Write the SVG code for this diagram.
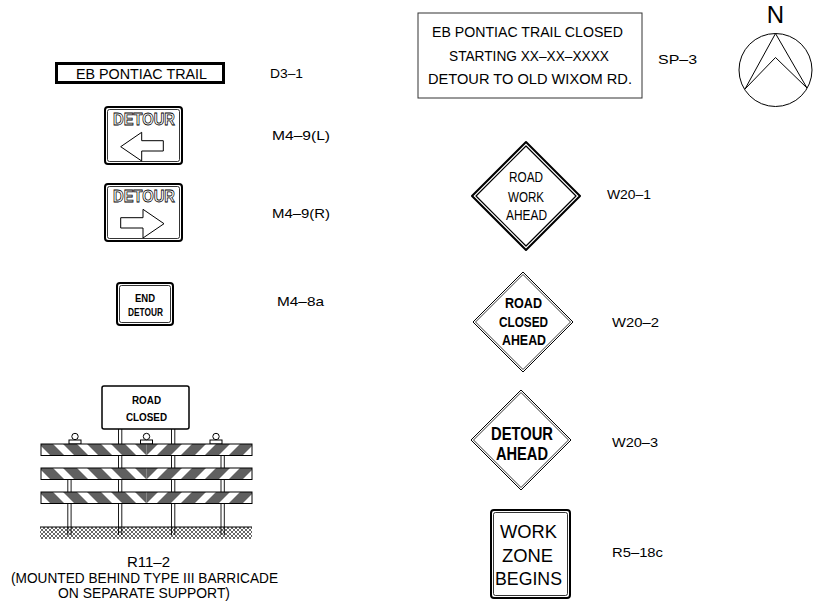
<svg xmlns="http://www.w3.org/2000/svg" xmlns:xlink="http://www.w3.org/1999/xlink" width="833" height="614" viewBox="0 0 833 614">
  <style>
    .t { font-family: "Liberation Sans", Arial, sans-serif; fill: #000; }
    .lbl { font-size: 13.5px; }
    .b { font-weight: bold; }
    .ln { fill: none; stroke: #000; }
    .sg { fill: #fff; stroke: #000; }
    .hollow { font-family: "Liberation Sans", Arial, sans-serif; font-weight: bold; font-size: 17px; fill: #fff; stroke: #000; stroke-width: 0.8; }
    .stripe { fill: #606060; }
  </style>
  <defs>
    <!-- diagonal stripe used on the barricade rails -->
    <polygon id="st" points="0,0 14,0 25.5,11.5 11.5,11.5"/>
    <clipPath id="railLeft">
      <rect x="41" y="444" width="105.5" height="11.5"/>
      <rect x="41" y="468" width="105.5" height="11.5"/>
      <rect x="41" y="492" width="105.5" height="11.5"/>
    </clipPath>
    <pattern id="hatch" width="4" height="4" patternUnits="userSpaceOnUse">
      <path d="M0,0 L4,4 M4,0 L0,4" stroke="#000" stroke-width="0.6"/>
    </pattern>
  </defs>

  <rect width="833" height="614" fill="#fff"/>

  <!-- D3-1 street name sign -->
  <g id="d3-1">
    <rect x="56.5" y="63.5" width="167" height="19" fill="#fff" stroke="#000" stroke-width="3"/>
    <text class="t" x="76" y="78.5" font-size="15" textLength="131" lengthAdjust="spacingAndGlyphs">EB PONTIAC TRAIL</text>
    <text class="t lbl" x="270" y="78" textLength="33" lengthAdjust="spacingAndGlyphs">D3–1</text>
  </g>

  <!-- M4-9(L) detour left -->
  <g id="m4-9l">
    <rect class="sg" x="105" y="107" width="77" height="57" rx="3" stroke-width="2"/>
    <rect class="ln" x="107.5" y="109.5" width="72" height="52" rx="2" stroke-width="0.8"/>
    <text class="hollow" x="113" y="125" textLength="62" lengthAdjust="spacingAndGlyphs">DETOUR</text>
    <polygon class="ln" stroke-width="1" points="120.7,146.7 141.7,132.3 141.7,140.7 163.3,140.7 163.3,151 141.7,151 141.7,161"/>
    <text class="t lbl" x="272" y="140" textLength="58" lengthAdjust="spacingAndGlyphs">M4–9(L)</text>
  </g>

  <!-- M4-9(R) detour right -->
  <g id="m4-9r">
    <rect class="sg" x="105" y="184" width="77" height="57" rx="3" stroke-width="2"/>
    <rect class="ln" x="107.5" y="186.5" width="72" height="52" rx="2" stroke-width="0.8"/>
    <text class="hollow" x="113" y="202" textLength="62" lengthAdjust="spacingAndGlyphs">DETOUR</text>
    <polygon class="ln" stroke-width="1" points="164,223.7 143,209.3 143,217.7 120.7,217.7 120.7,228 143,228 143,238"/>
    <text class="t lbl" x="272" y="218" textLength="58" lengthAdjust="spacingAndGlyphs">M4–9(R)</text>
  </g>

  <!-- M4-8a end detour -->
  <g id="m4-8a">
    <rect class="sg" x="117" y="283" width="56" height="42" rx="3" stroke-width="2"/>
    <rect class="ln" x="119.5" y="285.5" width="51" height="37" rx="2" stroke-width="0.8"/>
    <text class="t b" x="135" y="302" font-size="10.5" textLength="20" lengthAdjust="spacingAndGlyphs">END</text>
    <text class="t b" x="128" y="316" font-size="10.5" textLength="35" lengthAdjust="spacingAndGlyphs">DETOUR</text>
    <text class="t lbl" x="277" y="306" textLength="47" lengthAdjust="spacingAndGlyphs">M4–8a</text>
  </g>

  <!-- R11-2 road closed sign behind type III barricade -->
  <g id="r11-2">
    <!-- posts -->
    <g class="ln" stroke-width="0.9">
      <path d="M118.5,429 V535 M121.8,429 V535"/>
      <path d="M171.5,429 V535 M174.8,429 V535"/>
      <path d="M67.8,468 V535 M71.1,468 V535"/>
      <path d="M221,444 V535 M224.3,444 V535"/>
    </g>
    <!-- sign panel -->
    <rect class="sg" x="102" y="386" width="87" height="43" rx="2" stroke-width="1.5"/>
    <text class="t b" x="132" y="404" font-size="11" textLength="29" lengthAdjust="spacingAndGlyphs">ROAD</text>
    <text class="t b" x="126" y="421" font-size="11" textLength="41" lengthAdjust="spacingAndGlyphs">CLOSED</text>
    <!-- warning lights -->
    <g class="sg" stroke-width="1">
      <rect x="69" y="440" width="12" height="4"/>
      <circle cx="75" cy="436.5" r="3.2"/>
      <rect x="140.5" y="440" width="12" height="4"/>
      <circle cx="146.5" cy="436.5" r="3.2"/>
      <rect x="210" y="440" width="12" height="4"/>
      <circle cx="216" cy="436.5" r="3.2"/>
    </g>
    <!-- rails -->
    <rect x="41" y="444" width="211" height="11.5" fill="#fff"/>
    <rect x="41" y="468" width="211" height="11.5" fill="#fff"/>
    <rect x="41" y="492" width="211" height="11.5" fill="#fff"/>
    <g id="stripesL" clip-path="url(#railLeft)" class="stripe">
      <use xlink:href="#st" x="135" y="444"/><use xlink:href="#st" x="111" y="444"/><use xlink:href="#st" x="87" y="444"/>
      <use xlink:href="#st" x="63" y="444"/><use xlink:href="#st" x="39" y="444"/><use xlink:href="#st" x="15" y="444"/>
      <use xlink:href="#st" x="135" y="468"/><use xlink:href="#st" x="111" y="468"/><use xlink:href="#st" x="87" y="468"/>
      <use xlink:href="#st" x="63" y="468"/><use xlink:href="#st" x="39" y="468"/><use xlink:href="#st" x="15" y="468"/>
      <use xlink:href="#st" x="135" y="492"/><use xlink:href="#st" x="111" y="492"/><use xlink:href="#st" x="87" y="492"/>
      <use xlink:href="#st" x="63" y="492"/><use xlink:href="#st" x="39" y="492"/><use xlink:href="#st" x="15" y="492"/>
    </g>
    <use xlink:href="#stripesL" transform="matrix(-1 0 0 1 293 0)"/>
    <g class="ln" stroke-width="1">
      <rect x="41" y="444" width="211" height="11.5"/>
      <rect x="41" y="468" width="211" height="11.5"/>
      <rect x="41" y="492" width="211" height="11.5"/>
    </g>
    <!-- ground -->
    <rect x="40" y="527" width="212" height="12" fill="url(#hatch)"/>
    <path class="ln" d="M40,527 H252" stroke-width="1"/>
    <text class="t" x="127" y="567" font-size="14" textLength="43" lengthAdjust="spacingAndGlyphs">R11–2</text>
    <text class="t" x="11" y="583" font-size="14" textLength="267" lengthAdjust="spacingAndGlyphs">(MOUNTED BEHIND TYPE III BARRICADE</text>
    <text class="t" x="58" y="598" font-size="14" textLength="172" lengthAdjust="spacingAndGlyphs">ON SEPARATE SUPPORT)</text>
  </g>

  <!-- SP-3 special message sign -->
  <g id="sp-3">
    <rect x="418" y="13" width="224" height="85" fill="#fff" stroke="#333" stroke-width="1"/>
    <text class="t" x="432" y="37" font-size="14" textLength="191" lengthAdjust="spacingAndGlyphs">EB PONTIAC TRAIL CLOSED</text>
    <text class="t" x="449" y="61" font-size="14" textLength="160" lengthAdjust="spacingAndGlyphs">STARTING XX–XX–XXXX</text>
    <text class="t" x="428" y="84" font-size="14" textLength="204" lengthAdjust="spacingAndGlyphs">DETOUR TO OLD WIXOM RD.</text>
    <text class="t lbl" x="658" y="64" textLength="39" lengthAdjust="spacingAndGlyphs">SP–3</text>
  </g>

  <!-- north arrow -->
  <g id="north">
    <text class="t" x="775.5" y="23" font-size="24" text-anchor="middle">N</text>
    <circle class="ln" cx="775.5" cy="70" r="36.5" stroke-width="1"/>
    <polygon class="ln" stroke-width="1" points="775.5,33.5 807,88 775.5,57.5 745,89"/>
  </g>

  <!-- W20-1 road work ahead -->
  <g id="w20-1">
    <polygon class="sg" stroke-width="2" stroke-linejoin="round" points="526,142 580,196 526,250 472,196"/>
    <polygon class="ln" stroke-width="1.2" stroke-linejoin="round" points="526,146 576,196 526,246 476,196"/>
    <text class="t" x="509" y="182" font-size="15" textLength="34" lengthAdjust="spacingAndGlyphs">ROAD</text>
    <text class="t" x="508" y="202" font-size="15" textLength="36" lengthAdjust="spacingAndGlyphs">WORK</text>
    <text class="t" x="506" y="220" font-size="15" textLength="41" lengthAdjust="spacingAndGlyphs">AHEAD</text>
    <text class="t lbl" x="607" y="199" textLength="44" lengthAdjust="spacingAndGlyphs">W20–1</text>
  </g>

  <!-- W20-2 road closed ahead -->
  <g id="w20-2">
    <polygon class="sg" stroke-width="1" stroke-linejoin="round" points="523,272 573,322 523,372 473,322"/>
    <polygon class="ln" stroke-width="0.8" stroke-linejoin="round" points="523,274.5 570.5,322 523,369.5 475.5,322"/>
    <text class="t b" x="505" y="308" font-size="14" textLength="37" lengthAdjust="spacingAndGlyphs">ROAD</text>
    <text class="t b" x="499" y="327" font-size="14" textLength="49" lengthAdjust="spacingAndGlyphs">CLOSED</text>
    <text class="t b" x="502" y="345" font-size="14" textLength="44" lengthAdjust="spacingAndGlyphs">AHEAD</text>
    <text class="t lbl" x="612" y="327" textLength="47" lengthAdjust="spacingAndGlyphs">W20–2</text>
  </g>

  <!-- W20-3 detour ahead -->
  <g id="w20-3">
    <polygon class="sg" stroke-width="1" stroke-linejoin="round" points="521,390 571,440 521,490 471,440"/>
    <polygon class="ln" stroke-width="0.8" stroke-linejoin="round" points="521,392.5 568.5,440 521,487.5 473.5,440"/>
    <text class="t b" x="491" y="440" font-size="18" textLength="62" lengthAdjust="spacingAndGlyphs">DETOUR</text>
    <text class="t b" x="496" y="460" font-size="18" textLength="52" lengthAdjust="spacingAndGlyphs">AHEAD</text>
    <text class="t lbl" x="612" y="447" textLength="46" lengthAdjust="spacingAndGlyphs">W20–3</text>
  </g>

  <!-- R5-18c work zone begins -->
  <g id="r5-18c">
    <rect class="sg" x="491" y="510" width="79" height="88" rx="3" stroke-width="2"/>
    <rect class="ln" x="493.5" y="512.5" width="74" height="83" rx="2" stroke-width="0.8"/>
    <text class="t" x="500" y="538" font-size="18" textLength="57" lengthAdjust="spacingAndGlyphs">WORK</text>
    <text class="t" x="502" y="562" font-size="18" textLength="51" lengthAdjust="spacingAndGlyphs">ZONE</text>
    <text class="t" x="495" y="585" font-size="18" textLength="67" lengthAdjust="spacingAndGlyphs">BEGINS</text>
    <text class="t lbl" x="612" y="557" textLength="51" lengthAdjust="spacingAndGlyphs">R5–18c</text>
  </g>
</svg>
